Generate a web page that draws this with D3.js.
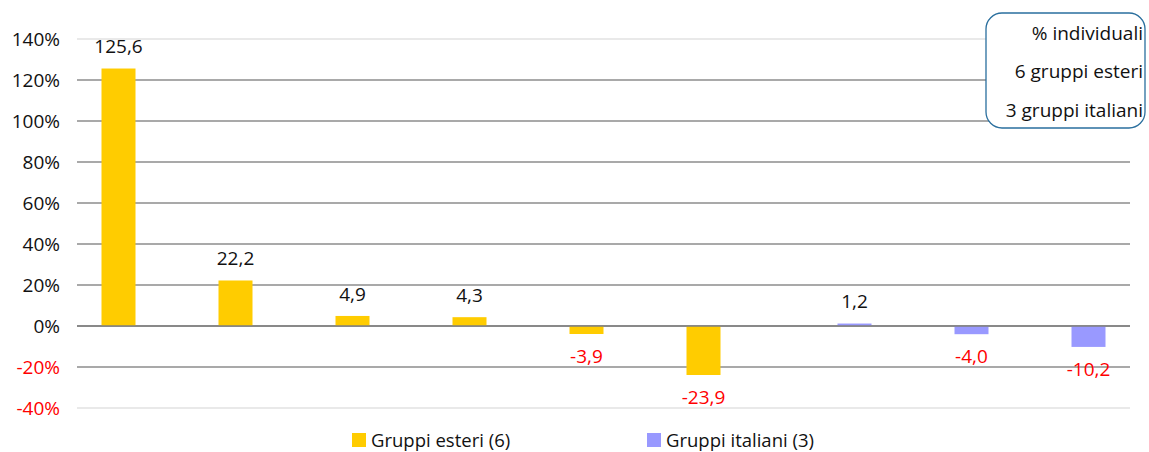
<!DOCTYPE html>
<html>
<head>
<meta charset="utf-8">
<script src="https://cdn.jsdelivr.net/npm/d3@7"></script>
<style>
  body { margin: 0; background: #fff; }
  text { font-family: "Open Sans", "Noto Sans", sans-serif; }
</style>
</head>
<body>
<svg id="chart" width="1149" height="452"></svg>
<script>
// categories (one slot per group, unnamed in the picture)
var categories = ['c1', 'c2', 'c3', 'c4', 'c5', 'c6', 'c7', 'c8', 'c9'];
var seriesNames = ['Gruppi esteri (6)', 'Gruppi italiani (3)'];
var esteri = [125.6, 22.2, 4.9, 4.3, -3.9, -23.9, null, null, null];
var italiani = [null, null, null, null, null, null, 1.2, -4.0, -10.2];
var yTicks = [-40, -20, 0, 20, 40, 60, 80, 100, 120, 140];
var boxLines = ['% individuali', '6 gruppi esteri', '3 gruppi italiani'];

var colors = ['#FFCC00', '#9999FF'];

var svg = d3.select('#chart');
var margin = {left: 77, right: 19, top: 39, bottom: 44};
var W = 1149, H = 452;

var x = d3.scaleBand().domain(categories).range([margin.left, W - margin.right]);
var y = d3.scaleLinear().domain([-40, 140]).range([H - margin.bottom, margin.top]);

var barW = 34;

// Format a value with a comma and a plain hyphen
function fmt(v) {
	return (v < 0 ? '-' : '') + Math.abs(v).toFixed(1).replace('.', ',');
};

// gridlines
svg.append('g').selectAll('line')
	.data(yTicks)
	.join('line')
	.attr('x1', margin.left).attr('x2', W - margin.right)
	.attr('y1', function(d) { return y(d); }).attr('y2', function(d) { return y(d); })
	.attr('stroke', function(d) { return (d == 140 || d == -40) ? '#e2e2e2' : '#8c8c8c'; })
	.attr('stroke-width', 1.5);

// y labels
svg.append('g').selectAll('text')
	.data(yTicks)
	.join('text')
	.attr('x', 60)
	.attr('y', function(d) { return y(d); })
	.attr('dy', '0.36em')
	.attr('text-anchor', 'end')
	.style('font-size', '19px')
	.attr('fill', function(d) { return d < 0 ? '#FF0000' : '#111'; })
	.text(function(d) { return (d < 0 ? '-' + Math.abs(d) : d) + '%'; });

// bars
var series = [esteri, italiani];
series.forEach(function(vals, s) {
	var data = categories.map(function(c, i) { return {c: c, v: vals[i]}; })
		.filter(function(d) { return d.v !== null; });
	// esteri bar sits left of the slot centre, italiani right
	var centre = function(d) { return x(d.c) + x.bandwidth() / 2 + (s == 0 ? -barW / 2 : barW / 2); };

	svg.append('g').selectAll('rect')
		.data(data)
		.join('rect')
		.attr('x', function(d) { return centre(d) - barW / 2; })
		.attr('width', barW)
		.attr('y', function(d) { return y(Math.max(0, d.v)); })
		.attr('height', function(d) { return Math.abs(y(d.v) - y(0)); })
		.attr('fill', colors[s]);

	svg.append('g').selectAll('text')
		.data(data)
		.join('text')
		.attr('x', centre)
		.attr('y', function(d) { return d.v >= 0 ? y(d.v) - 22 : y(d.v) + 22; })
		.attr('dy', '0.36em')
		.attr('text-anchor', 'middle')
		.style('font-size', '19px')
		.attr('fill', function(d) { return d.v < 0 ? '#FF0000' : '#111'; })
		.text(function(d) { return fmt(d.v); });
});

// zero line on top
svg.append('line')
	.attr('x1', margin.left).attr('x2', W - margin.right)
	.attr('y1', y(0)).attr('y2', y(0))
	.attr('stroke', '#7f7f7f').attr('stroke-width', 1.5);

// note box
var box = svg.append('g');
box.append('rect')
	.attr('x', 986).attr('y', 13).attr('width', 159).attr('height', 115)
	.attr('rx', 16)
	.attr('fill', '#fff')
	.attr('stroke', '#2a6f9e')
	.attr('stroke-width', 1.3);
box.selectAll('text')
	.data(boxLines)
	.join('text')
	.attr('x', 1143)
	.attr('y', function(d, i) { return 33 + i * 38.5; })
	.attr('dy', '0.36em')
	.attr('text-anchor', 'end')
	.style('font-size', '19px')
	.attr('fill', '#111')
	.text(function(d) { return d; });

// legend
var legX = [352, 647];
var leg = svg.append('g').selectAll('g')
	.data(seriesNames)
	.join('g')
	.attr('transform', function(d, i) { return 'translate(' + legX[i] + ',433)'; });
leg.append('rect').attr('width', 14).attr('height', 14)
	.attr('fill', function(d, i) { return colors[i]; });
leg.append('text').attr('x', 19).attr('y', 7).attr('dy', '0.36em')
	.style('font-size', '18.5px').attr('fill', '#111')
	.text(function(d) { return d; });
</script>
</body>
</html>
